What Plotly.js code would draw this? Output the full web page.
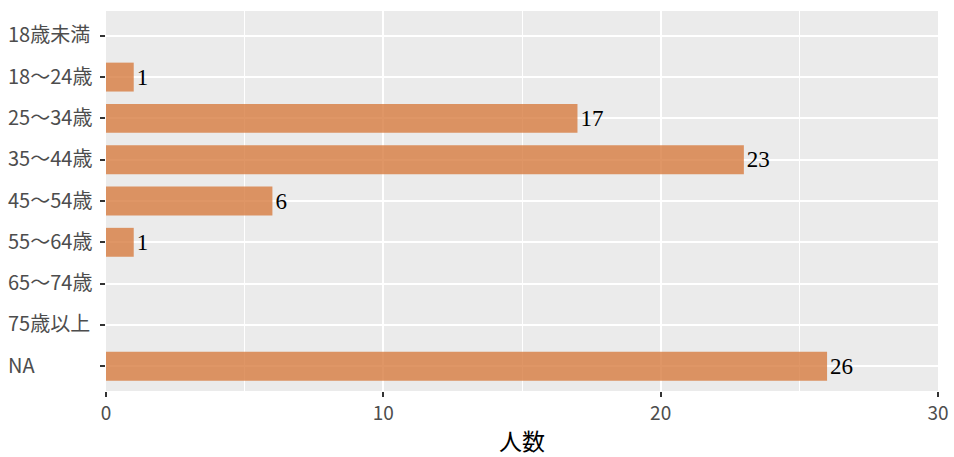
<!DOCTYPE html>
<html>
<head>
<meta charset="utf-8">
<script src="https://cdn.plot.ly/plotly-3.0.1.min.js"></script>
<style>html,body{margin:0;padding:0;background:#fff;}#chart{width:954px;height:457px;}</style>
</head>
<body>
<div id="chart"></div>
<script>
const categories = ["18歳未満","18～24歳","25～34歳","35～44歳","45～54歳","55～64歳","65～74歳","75歳以上","NA"];
const counts = [0,1,17,23,6,1,0,0,26];
const xTicks = [0,10,20,30];
const xTitle = "人数";

const cjk = '"Noto Sans CJK JP", "Noto Sans", sans-serif';

const trace = {
  type: 'bar',
  orientation: 'h',
  y: categories,
  x: counts,
  width: 0.7,
  marker: {color: 'rgba(215,124,64,0.8)', line: {width: 0}},
  text: counts.map(v => v > 0 ? String(v) : ''),
  textposition: 'outside',
  constraintext: 'none',
  cliponaxis: false,
  textfont: {family: '"Liberation Serif", "Times New Roman", serif', size: 23, color: '#000'},
  hoverinfo: 'none'
};

const annotations = categories.map(c => ({
  xref: 'paper', yref: 'y', x: -0.1202, y: c,
  xanchor: 'left', yanchor: 'middle', yshift: 2,
  text: c, showarrow: false,
  font: {family: cjk, size: 20, color: '#4D4D4D'}
}));

const layout = {
  width: 954, height: 457,
  margin: {l: 106, r: 16, t: 11, b: 66, pad: 0},
  paper_bgcolor: '#FFFFFF',
  plot_bgcolor: '#EBEBEB',
  showlegend: false,
  bargap: 0.3,
  xaxis: {
    range: [0, 30],
    tickvals: xTicks,
    ticktext: xTicks.map(String),
    ticks: 'outside', ticklen: 5, tickwidth: 2, tickcolor: '#333333',
    showgrid: true, gridcolor: '#FFFFFF', gridwidth: 2,
    minor: {dtick: 5, tick0: 0, showgrid: true, gridcolor: '#FFFFFF', gridwidth: 1, ticks: ''},
    zeroline: false, showline: false,
    tickfont: {family: cjk, size: 19, color: '#4D4D4D'},
    title: {text: xTitle, font: {family: cjk, size: 23, color: '#000'}, standoff: 11},
    fixedrange: true
  },
  yaxis: {
    type: 'category',
    categoryorder: 'array', categoryarray: categories,
    autorange: false,
    range: [categories.length - 1 + 0.6, -0.6],
    ticks: 'outside', ticklen: 5, tickwidth: 2, tickcolor: '#333333',
    showticklabels: false,
    showgrid: true, gridcolor: '#FFFFFF', gridwidth: 2,
    zeroline: false, showline: false,
    fixedrange: true
  },
  annotations: annotations
};

Plotly.newPlot('chart', [trace], layout, {displayModeBar: false, staticPlot: true});
</script>
</body>
</html>
